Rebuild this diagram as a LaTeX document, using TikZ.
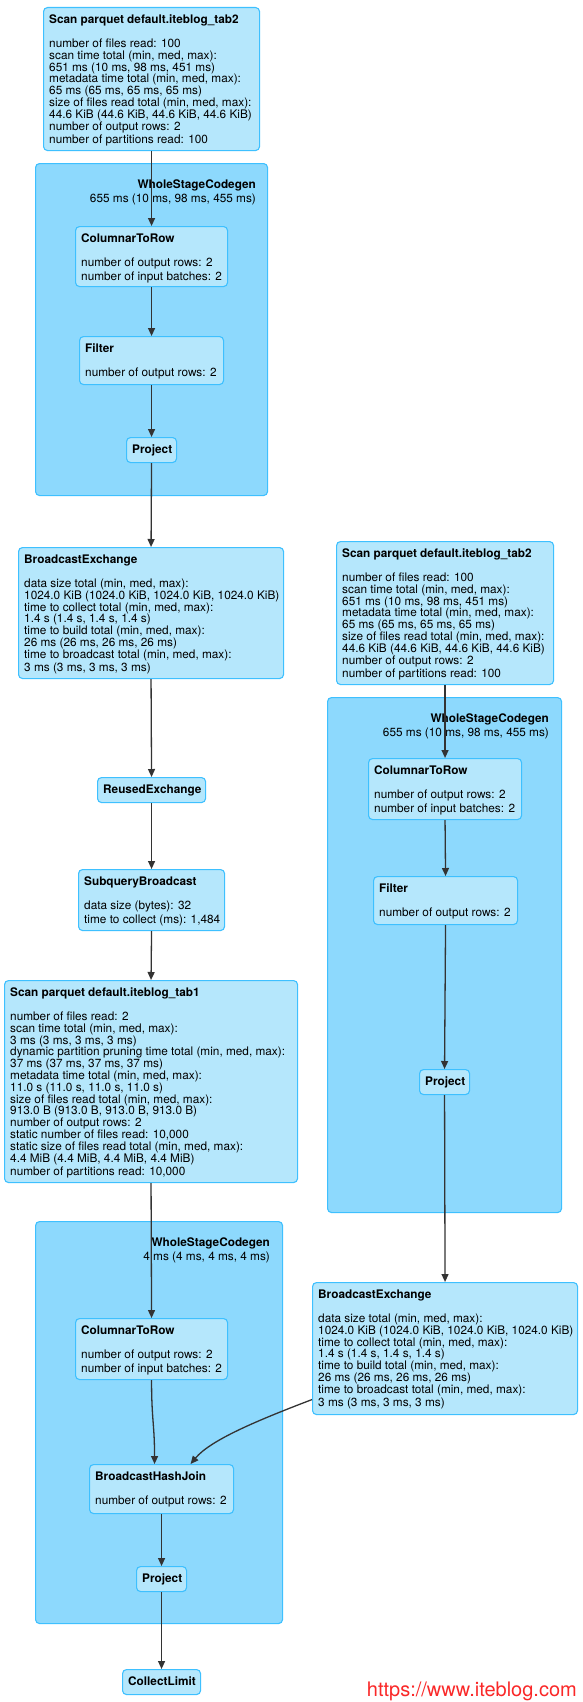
\documentclass[tikz,border=0pt]{standalone}
\usepackage{fontspec}
\setmainfont{TeX Gyre Heros}
\usetikzlibrary{arrows.meta}
\definecolor{nodefill}{RGB}{181,231,252}
\definecolor{clufill}{RGB}{141,217,253}
\definecolor{edgec}{RGB}{62,192,255}
\definecolor{linec}{RGB}{51,51,51}
\definecolor{wmred}{RGB}{250,40,40}
\newcommand{\st}{\rule[-1.7pt]{0pt}{11.8pt}}
\newcommand{\pbox}[6]{%
  \node[opbox, minimum width=#4pt, minimum height=#5pt] (#1) at (#2,-#3) {};
  \node[optxt] (#1-t) at ([xshift=6pt,yshift=-6.5pt]#1.north west) {#6};}
\newcommand{\cbox}[7]{%
  \node[clbox, minimum width=#4pt, minimum height=#5pt] (#1) at (#2,-#3) {};
  \node[cltxt] (#1-t) at ([xshift=-#6pt,yshift=-15.5pt]#1.north east) {\st\textbf{WholeStageCodegen}\\\st #7};}
\begin{document}
\begin{tikzpicture}[x=1pt,y=1pt,
  opbox/.style={draw=edgec, fill=nodefill, rounded corners=4pt, line width=1.1pt, inner sep=0pt, anchor=north west},
  clbox/.style={draw=edgec, fill=clufill, rounded corners=4pt, line width=1.1pt, inner sep=0pt, anchor=north west},
  optxt/.style={inner sep=0pt, anchor=north west, align=left, font=\fontsize{11.8}{11.8}\selectfont},
  cltxt/.style={inner sep=0pt, anchor=north east, align=right, font=\fontsize{11.8}{11.8}\selectfont},
  conn/.style={draw=linec, line width=1.3pt, -{Triangle[length=8pt,width=7pt]}}]
\useasboundingbox (0,0) rectangle (583,-1702);
\fill[white] (0,0) rectangle (583,-1702);

% clusters
\cbox{w1}{35}{163}{232}{332}{12}{655 ms (10 ms, 98 ms, 455 ms)}
\cbox{w2}{327}{697}{234}{515}{13}{655 ms (10 ms, 98 ms, 455 ms)}
\cbox{w3}{35}{1221}{247}{402}{13}{4 ms (4 ms, 4 ms, 4 ms)}

% left column
\pbox{s2l}{43}{7}{216}{143}{\st\textbf{Scan parquet default.iteblog\_tab2}\\[11.8pt]
number of files read: 100\\
scan time total (min, med, max):\\
651 ms (10 ms, 98 ms, 451 ms)\\
metadata time total (min, med, max):\\
65 ms (65 ms, 65 ms, 65 ms)\\
size of files read total (min, med, max):\\
44.6 KiB (44.6 KiB, 44.6 KiB, 44.6 KiB)\\
number of output rows: 2\\
\st number of partitions read: 100}

\pbox{c2r1}{75}{226}{152}{60}{\st\textbf{ColumnarToRow}\\[11.8pt]
number of output rows: 2\\
\st number of input batches: 2}

\pbox{f1}{79}{336}{144}{48}{\st\textbf{Filter}\\[11.8pt]
\st number of output rows: 2}

\pbox{p1}{126}{437}{50}{25}{\st\textbf{Project}}

\pbox{bel}{18}{547}{265}{131}{\st\textbf{BroadcastExchange}\\[11.8pt]
data size total (min, med, max):\\
1024.0 KiB (1024.0 KiB, 1024.0 KiB, 1024.0 KiB)\\
time to collect total (min, med, max):\\
1.4 s (1.4 s, 1.4 s, 1.4 s)\\
time to build total (min, med, max):\\
26 ms (26 ms, 26 ms, 26 ms)\\
time to broadcast total (min, med, max):\\
\st 3 ms (3 ms, 3 ms, 3 ms)}

\pbox{reu}{97}{777}{108}{25}{\st\textbf{ReusedExchange}}

\pbox{sqb}{78}{869}{146}{61}{\st\textbf{SubqueryBroadcast}\\[11.8pt]
data size (bytes): 32\\
\st time to collect (ms): 1,484}

\pbox{s1}{4}{980}{293}{202}{\st\textbf{Scan parquet default.iteblog\_tab1}\\[11.8pt]
number of files read: 2\\
scan time total (min, med, max):\\
3 ms (3 ms, 3 ms, 3 ms)\\
dynamic partition pruning time total (min, med, max):\\
37 ms (37 ms, 37 ms, 37 ms)\\
metadata time total (min, med, max):\\
11.0 s (11.0 s, 11.0 s, 11.0 s)\\
size of files read total (min, med, max):\\
913.0 B (913.0 B, 913.0 B, 913.0 B)\\
number of output rows: 2\\
static number of files read: 10,000\\
static size of files read total (min, med, max):\\
4.4 MiB (4.4 MiB, 4.4 MiB, 4.4 MiB)\\
\st number of partitions read: 10,000}

\pbox{c2r3}{75}{1318}{152}{61}{\st\textbf{ColumnarToRow}\\[11.8pt]
number of output rows: 2\\
\st number of input batches: 2}

\pbox{bhj}{89}{1464}{144}{49}{\st\textbf{BroadcastHashJoin}\\[11.8pt]
\st number of output rows: 2}

\pbox{p3}{136}{1566}{50}{25}{\st\textbf{Project}}

\pbox{cl}{122}{1669}{78}{25}{\st\textbf{CollectLimit}}

% right column
\pbox{s2r}{336}{541}{217}{143}{\st\textbf{Scan parquet default.iteblog\_tab2}\\[11.8pt]
number of files read: 100\\
scan time total (min, med, max):\\
651 ms (10 ms, 98 ms, 451 ms)\\
metadata time total (min, med, max):\\
65 ms (65 ms, 65 ms, 65 ms)\\
size of files read total (min, med, max):\\
44.6 KiB (44.6 KiB, 44.6 KiB, 44.6 KiB)\\
number of output rows: 2\\
\st number of partitions read: 100}

\pbox{c2r2}{368}{758}{153}{61}{\st\textbf{ColumnarToRow}\\[11.8pt]
number of output rows: 2\\
\st number of input batches: 2}

\pbox{f2}{373}{876}{144}{48}{\st\textbf{Filter}\\[11.8pt]
\st number of output rows: 2}

\pbox{p2}{419}{1069}{50}{25}{\st\textbf{Project}}

\pbox{ber}{312}{1282}{265}{132}{\st\textbf{BroadcastExchange}\\[11.8pt]
data size total (min, med, max):\\
1024.0 KiB (1024.0 KiB, 1024.0 KiB, 1024.0 KiB)\\
time to collect total (min, med, max):\\
1.4 s (1.4 s, 1.4 s, 1.4 s)\\
time to build total (min, med, max):\\
26 ms (26 ms, 26 ms, 26 ms)\\
time to broadcast total (min, med, max):\\
\st 3 ms (3 ms, 3 ms, 3 ms)}

% watermark
\node[anchor=base east, inner sep=0pt, text=wmred, font=\fontsize{20}{20}\selectfont] (wm) at (577,-1696) {https://www.iteblog.com};

% connectors
\draw[conn] (s2l.south) -- (c2r1.north);
\draw[conn] (c2r1.south) -- (f1.north);
\draw[conn] (f1.south) -- (p1.north);
\draw[conn] (p1.south) -- (bel.north);
\draw[conn] (bel.south) -- (reu.north);
\draw[conn] (reu.south) -- (sqb.north);
\draw[conn] (sqb.south) -- (s1.north);
\draw[conn] (s1.south) -- (c2r3.north);
\draw[conn] (c2r3.south) .. controls +(0,-40) and +(0,40) .. ([xshift=-7pt]bhj.north);
\draw[conn] ([yshift=-51pt]ber.west) .. controls +(-55,-21) and +(20,24) .. ([xshift=29pt]bhj.north);
\draw[conn] (bhj.south) -- (p3.north);
\draw[conn] (p3.south) -- (cl.north);
\draw[conn] (s2r.south) -- (c2r2.north);
\draw[conn] (c2r2.south) -- (f2.north);
\draw[conn] (f2.south) -- (p2.north);
\draw[conn] (p2.south) -- (ber.north);
\end{tikzpicture}
\end{document}
